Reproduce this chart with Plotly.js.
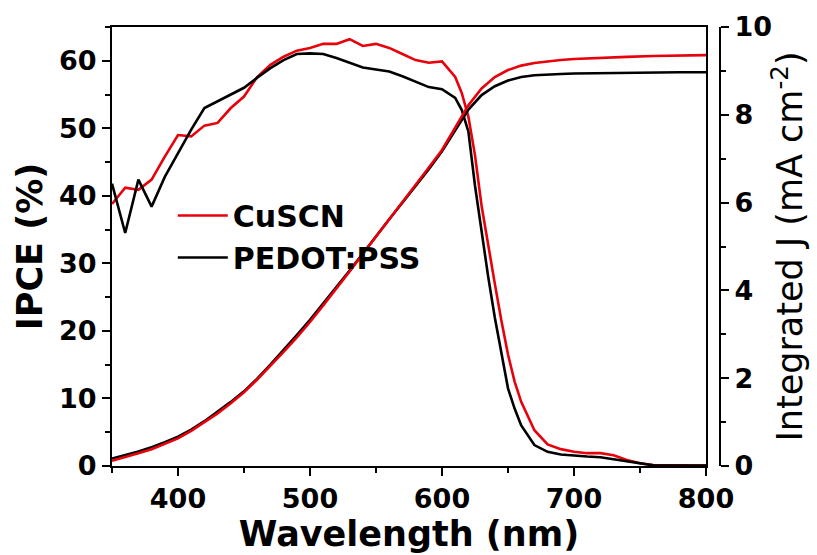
<!DOCTYPE html>
<html>
<head>
<meta charset="utf-8">
<script src="https://cdn.plot.ly/plotly-3.0.1.min.js"></script>
<style>
html,body{margin:0;padding:0;background:#fff;}
#chart{width:817px;height:555px;}
</style>
</head>
<body>
<div id="chart"></div>
<script>
// ---- Data ----
const ipceWavelength = [350,360,370,380,390,400,410,420,430,440,450,460,470,480,490,500,510,520,530,540,550,560,570,580,590,600,610,615,620,625,630,635,640,645,650,655,660,670,680,690,700,710,720,730,740,750,760,770,780,790,800];
const ipceCuSCN = [38.8,41.2,40.9,42.4,45.8,49.0,48.8,50.4,50.8,53.0,54.7,57.6,59.4,60.6,61.5,61.9,62.5,62.5,63.2,62.2,62.5,61.9,61.0,60.1,59.7,59.9,57.6,55.2,51.7,46.0,38.5,32.5,27.0,21.5,16.5,12.5,9.5,5.3,3.2,2.5,2.1,1.9,1.9,1.6,0.9,0.4,0.15,0.1,0.05,0.05,0.05];
const ipcePEDOT = [41.8,34.5,42.4,38.4,42.8,46.4,49.8,53.0,54.0,55.0,56.0,57.5,58.9,60.1,61.0,61.1,61.0,60.4,59.7,59.0,58.7,58.4,57.7,56.9,56.1,55.8,54.5,52.7,49.5,41.5,34.5,28.0,22.0,16.5,11.5,8.5,6.0,3.1,2.1,1.7,1.5,1.4,1.3,1.0,0.6,0.3,0.1,0.05,0.05,0.05,0.05];

const jWavelength = [350,360,370,380,390,400,410,420,430,440,450,460,470,480,490,500,510,520,530,540,550,560,570,580,590,600,610,620,630,640,650,660,670,680,690,700,720,740,760,780,800];
const jCuSCN = [0.12,0.2,0.29,0.38,0.5,0.63,0.8,1.0,1.2,1.43,1.68,1.97,2.28,2.6,2.93,3.28,3.66,4.04,4.43,4.83,5.22,5.62,6.02,6.41,6.8,7.2,7.72,8.22,8.6,8.86,9.02,9.12,9.18,9.22,9.25,9.27,9.3,9.32,9.34,9.35,9.36];
const jPEDOT = [0.17,0.25,0.33,0.43,0.54,0.67,0.83,1.02,1.23,1.46,1.7,1.99,2.31,2.64,2.98,3.33,3.7,4.07,4.45,4.84,5.24,5.62,6.0,6.38,6.76,7.17,7.65,8.12,8.45,8.65,8.78,8.86,8.9,8.92,8.93,8.94,8.95,8.96,8.97,8.97,8.97];

const seriesNames = ['CuSCN','PEDOT:PSS'];
const seriesColors = ['#e8000b','#000000'];

const xTickVals = [400,500,600,700,800];
const yTickVals = [0,10,20,30,40,50,60];
const y2TickVals = [0,2,4,6,8,10];

const FONT = 'DejaVu Sans, Verdana, sans-serif';
const LW = 2.6;

const traces = [
  {x: ipceWavelength, y: ipceCuSCN, name: seriesNames[0], legendgroup:'a', mode:'lines', line:{color:seriesColors[0], width:LW}, xaxis:'x', yaxis:'y'},
  {x: ipceWavelength, y: ipcePEDOT, name: seriesNames[1], legendgroup:'b', mode:'lines', line:{color:seriesColors[1], width:LW}, xaxis:'x', yaxis:'y'},
  {x: jWavelength, y: jPEDOT, name: seriesNames[1], legendgroup:'b', showlegend:false, mode:'lines', line:{color:seriesColors[1], width:LW}, xaxis:'x', yaxis:'y2'},
  {x: jWavelength, y: jCuSCN, name: seriesNames[0], legendgroup:'a', showlegend:false, mode:'lines', line:{color:seriesColors[0], width:LW}, xaxis:'x', yaxis:'y2'}
];

const layout = {
  width: 817, height: 555,
  margin: {l:112, r:97, t:27, b:89, pad:0},
  paper_bgcolor:'#fff', plot_bgcolor:'#fff',
  font: {family: FONT, color:'#000'},
  showlegend: true,
  legend: {x:0.1, y:0.63, xanchor:'left', yanchor:'top', bgcolor:'rgba(0,0,0,0)', borderwidth:0,
           font:{family:FONT, size:30, color:'#000', weight:'bold'}, tracegroupgap:0, itemwidth:50},
  xaxis: {
    domain:[0,0.977], range:[350,800], tickvals:xTickVals, ticks:'outside', ticklen:8, tickwidth:2, tickcolor:'#000',
    showline:true, linewidth:2, linecolor:'#000', mirror:true, showgrid:false, zeroline:false,
    tickfont:{family:FONT, size:27, weight:'bold'},
    minor:{dtick:50, tick0:350, ticks:'outside', ticklen:5, tickwidth:2, tickcolor:'#000', showgrid:false},
    title:{text:'Wavelength (nm)', font:{family:FONT, size:35, weight:'bold'}, standoff:2}
  },
  yaxis: {
    range:[0,65], tickvals:yTickVals, ticks:'outside', ticklen:8, tickwidth:2, tickcolor:'#000',
    showline:true, linewidth:2, linecolor:'#000', mirror:true, showgrid:false, zeroline:false,
    tickfont:{family:FONT, size:27, weight:'bold'},
    minor:{dtick:5, tick0:0, ticks:'outside', ticklen:5, tickwidth:2, tickcolor:'#000', showgrid:false},
    title:{text:'IPCE (%)', font:{family:FONT, size:35, weight:'bold'}, standoff:6}
  },
  yaxis2: {
    overlaying:'y', side:'right', anchor:'free', position:1,
    range:[0,10], tickvals:y2TickVals, ticks:'outside', ticklen:8, tickwidth:2, tickcolor:'#000',
    showline:true, linewidth:2, linecolor:'#000', showgrid:false, zeroline:false,
    tickfont:{family:FONT, size:27, weight:'bold'},
    minor:{dtick:1, tick0:0, ticks:'outside', ticklen:5, tickwidth:2, tickcolor:'#000', showgrid:false},
    title:{text:'Integrated J (mA cm<sup>-2</sup>)', font:{family:FONT, size:35}, standoff:6}
  }
};

Plotly.newPlot('chart', traces, layout, {displayModeBar:false, staticPlot:true});
</script>
</body>
</html>
